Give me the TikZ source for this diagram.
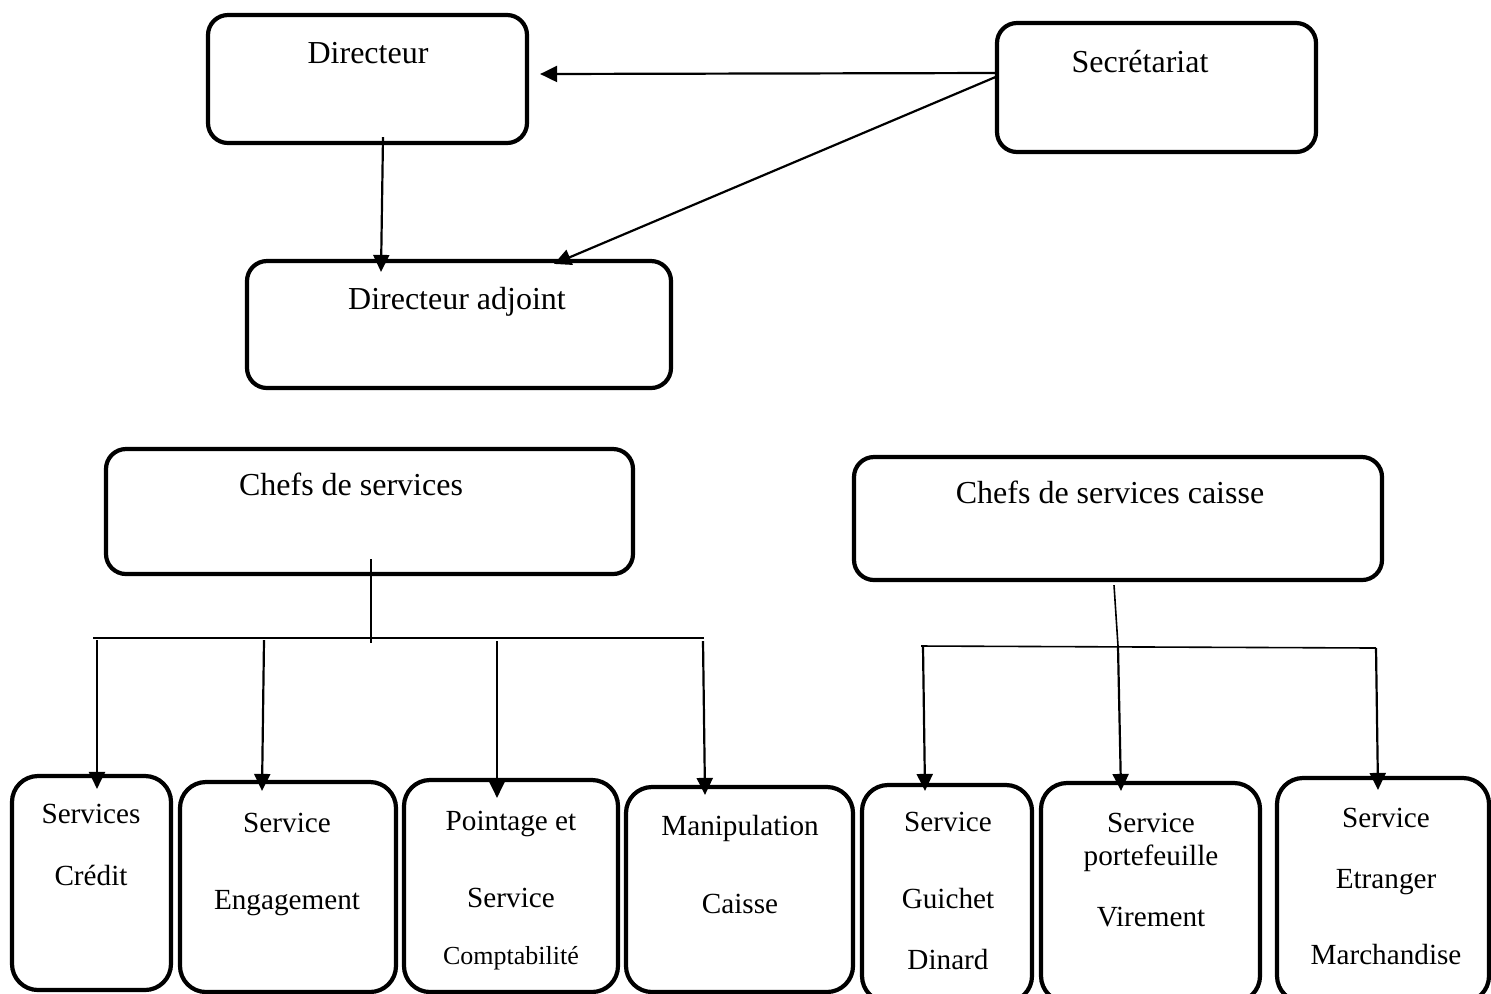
\documentclass[tikz,border=0pt]{standalone}
\usepackage{fontspec}
\setmainfont{Liberation Serif}
\usetikzlibrary{arrows.meta,fit}

\begin{document}
\begin{tikzpicture}[x=0.5pt,y=-0.5pt,
  box/.style={draw, line width=2.1pt, rounded corners=10pt, inner sep=0pt},
  lowbox/.style={box, rounded corners=13pt},
  arr/.style={line width=1.1pt, -{Triangle[length=8.5pt,width=8pt]}},
  tree/.style={line width=0.8pt},
  big/.style={font=\fontsize{16}{19}\selectfont, anchor=base, inner sep=0pt},
  mid/.style={font=\fontsize{14.6}{17}\selectfont, anchor=base, inner sep=0pt},
  small/.style={font=\fontsize{13}{15}\selectfont, anchor=base, inner sep=0pt}]

\clip (0,0) rectangle (1491,993);

% upper management
\node[box, fit={(208,15) (527,143)}] (dir) {};
\node[box, fit={(997,23) (1316,152)}] (sec) {};
\node[box, fit={(247,261) (671,388)}] (adj) {};
\node[big] (dirlbl) at (368,63) {Directeur};
\node[big] (seclbl) at (1140,72) {Secrétariat};
\node[big] (adjlbl) at (457,309) {Directeur adjoint};

\draw[arr] ([shift={(3,-14.5)}]sec.west) -- ([shift={(11,-5)}]dir.east);
\draw[arr] ([shift={(3,-11.5)}]sec.west) -- ([shift={(95,5)}]adj.north);
\draw[arr] ([shift={(15.5,-8)}]dir.south) -- ([shift={(-78,13)}]adj.north);

% heads of department
\node[box, fit={(106,449) (633,574)}] (chefs) {};
\node[box, fit={(854,457) (1382,580)}] (cc) {};
\node[big] (chefslbl) at (351,495) {Chefs de services};
\node[big] (cclbl) at (1110,503) {Chefs de services caisse};

% services
\node[lowbox, fit={(12,776) (171,990)}] (b1) {};
\node[lowbox, fit={(180,782) (396,992)}] (b2) {};
\node[lowbox, fit={(404,780) (618,992)}] (b3) {};
\node[lowbox, fit={(626,787) (853,992)}] (b4) {};
\node[lowbox, fit={(862,785) (1032,1002)}] (b5) {};
\node[lowbox, fit={(1041,783) (1260,1002)}] (b6) {};
\node[lowbox, fit={(1277,778) (1489,1002)}] (b7) {};

\node[mid] (b1a) at (91,823) {Services};
\node[mid] (b1b) at (91,885) {Crédit};
\node[mid] (b2a) at (287,832) {Service};
\node[mid] (b2b) at (287,909) {Engagement};
\node[mid] (b3a) at (511,830) {Pointage et};
\node[mid] (b3b) at (511,907) {Service};
\node[small] (b3c) at (511,964) {Comptabilité};
\node[mid] (b4a) at (740,835) {Manipulation};
\node[mid] (b4b) at (740,913) {Caisse};
\node[mid] (b5a) at (948,831) {Service};
\node[mid] (b5b) at (948,908) {Guichet};
\node[mid] (b5c) at (948,969) {Dinard};
\node[mid] (b6a) at (1151,832) {Service};
\node[mid] (b6b) at (1151,865) {portefeuille};
\node[mid] (b6c) at (1151,926) {Virement};
\node[mid] (b7a) at (1386,827) {Service};
\node[mid] (b7b) at (1386,888) {Etranger};
\node[mid] (b7c) at (1386,964) {Marchandise};

% left branch
\coordinate (j1) at (371,643);
\coordinate (bl1) at (93,638);
\coordinate (br1) at (704,638);
\coordinate (t1) at (97,640);
\coordinate (t2) at (264,640);
\coordinate (t3) at (497,641);
\coordinate (t4) at (703,641);
\draw[tree] ([shift={(1.5,-17)}]chefs.south) -- (j1);
\draw[tree] (bl1) -- (br1);
\draw[arr] (t1) -- ([shift={(5.5,15)}]b1.north);
\draw[arr] (t2) -- ([shift={(-26,11)}]b2.north);
\draw[arr] (t3) -- ([shift={(-14,20)}]b3.north);
\draw[arr] (t4) -- ([shift={(-34.5,10)}]b4.north);

% right branch
\coordinate (j2) at (1118,646);
\coordinate (bl2) at (921,646);
\coordinate (br2) at (1376,648);
\coordinate (t5) at (923,647);
\coordinate (t6) at (1118,647);
\coordinate (t7) at (1376,648);
\draw[tree] ([shift={(-4,3)}]cc.south) -- (j2);
\draw[tree] (bl2) -- (br2);
\draw[arr] (t5) -- ([shift={(-22,8)}]b5.north);
\draw[arr] (t6) -- ([shift={(-29.5,10)}]b6.north);
\draw[arr] (t7) -- ([shift={(-5,14)}]b7.north);

\end{tikzpicture}
\end{document}
